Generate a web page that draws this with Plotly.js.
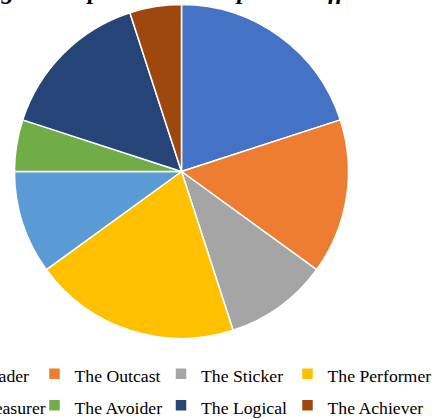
<!DOCTYPE html>
<html>
<head>
<meta charset="utf-8">
<script src="https://cdn.plot.ly/plotly-3.0.1.min.js"></script>
<style>
  html, body { margin: 0; padding: 0; overflow: hidden; background: #fff; width: 435px; height: 419px; }
  #chart { position: absolute; left: -92.5px; top: 0; width: 530px; height: 419px; }
</style>
</head>
<body>
<div id="chart"></div>
<script>
const categories = ["The Leader", "The Outcast", "The Sticker", "The Performer",
                    "The Pleasurer", "The Avoider", "The Logical", "The Achiever"];
const values = [20, 15, 10, 20, 10, 5, 15, 5];
const colors = ["#4472C4", "#ED7D31", "#A5A5A5", "#FFC000",
                "#5B9BD5", "#70AD47", "#264478", "#9E480E"];
const titleText = "Gauging the Impact on the Impacted Officer Watch";

const W = 530, H = 419;
const OX = 92.5;                 // the chart div is shifted left by this many px
const cx = 181 + OX, cy = 171.5, R = 167;
const serif = 'Liberation Serif, Times New Roman, serif';

const legendLabelSize = 17.7;
const labels = categories.map(c => '<span style="font-size:' + legendLabelSize + 'px">' + c + '</span>');

const trace = {
  type: 'pie',
  labels: labels,
  values: values,
  sort: false,
  direction: 'clockwise',
  rotation: 0,
  textinfo: 'none',
  hoverinfo: 'label+value+percent',
  marker: { colors: colors, line: { color: '#ffffff', width: 1.5 } },
  domain: {
    x: [(cx - R) / W, (cx + R) / W],
    y: [(H - cy - R) / H, (H - cy + R) / H]
  }
};

const layout = {
  width: W,
  height: H,
  margin: { l: 0, r: 0, t: 0, b: 0, pad: 0, autoexpand: false },
  paper_bgcolor: '#ffffff',
  plot_bgcolor: '#ffffff',
  font: { family: serif, color: '#000000' },
  title: {
    text: titleText,
    xref: 'container', yref: 'container',
    x: 16 / W, xanchor: 'left',
    y: 1, yanchor: 'bottom',
    pad: { b: 1.5, t: 0, l: 0, r: 0 },
    font: { family: serif, size: 25, weight: 'bold', style: 'italic', color: '#000000' }
  },
  showlegend: true,
  legend: {
    orientation: 'h',
    x: 0, xanchor: 'left',
    y: (H - 353) / H, yanchor: 'top',
    entrywidth: 81.5,
    entrywidthmode: 'pixels',
    traceorder: 'normal',
    font: { family: serif, size: 21.9, color: '#000000' },
    bgcolor: 'rgba(0,0,0,0)',
    borderwidth: 0
  }
};

Plotly.newPlot('chart', [trace], layout, { displayModeBar: false }).then(gd => {
  // let the last legend column's text run past the fixed entry width instead of being clipped
  gd.querySelectorAll('.legend .scrollbox').forEach(el => el.removeAttribute('clip-path'));
});
</script>
</body>
</html>
